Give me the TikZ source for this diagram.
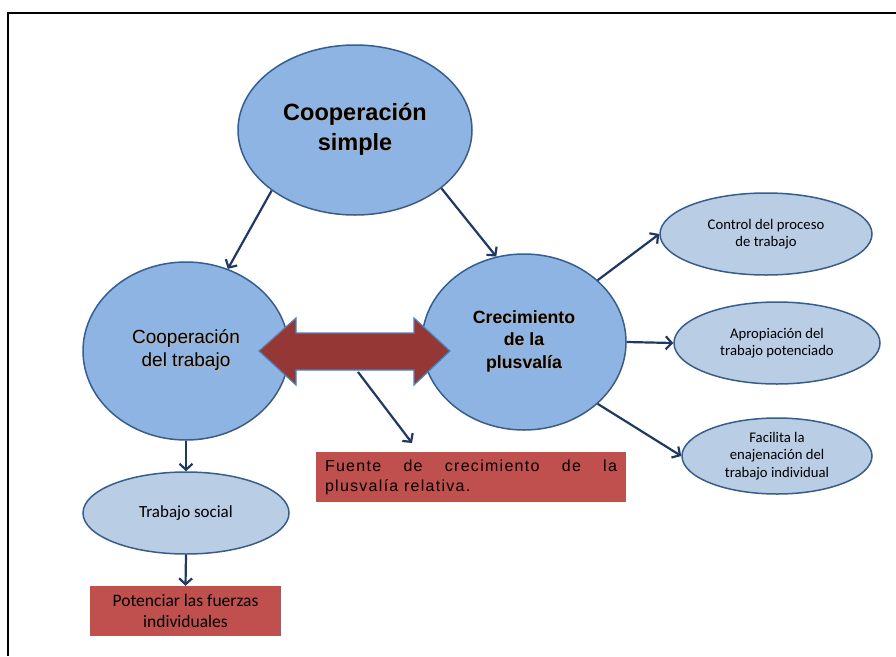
\documentclass[tikz,border=0pt]{standalone}
\usepackage{fontspec}
\setmainfont{Liberation Sans}
\newfontfamily\calibri{Carlito}
\newfontfamily\espaciada[LetterSpace=8]{Liberation Sans}
\usetikzlibrary{shapes.geometric,arrows.meta}

\definecolor{azulfuerte}{HTML}{8EB4E3}
\definecolor{azulclaro}{HTML}{B9CDE5}
\definecolor{borde}{HTML}{385D8A}
\definecolor{flecha}{HTML}{1F3864}
\definecolor{rojocaja}{HTML}{C0504D}
\definecolor{granate}{HTML}{953735}
\definecolor{bordeflecha}{HTML}{4F81BD}

% texto con sombra suave
\newcommand{\sombra}[1]{\makebox[0pt][l]{\textcolor{black!30}{\hspace{1.3pt}\raisebox{-1.3pt}{#1}}}#1}

\tikzset{
  grande/.style={ellipse, draw=borde, line width=1.5pt, fill=azulfuerte, inner sep=0pt, align=center},
  chico/.style={ellipse, draw=borde, line width=1.5pt, fill=azulclaro, inner sep=0pt, align=center,
    font=\calibri\fontsize{14.7}{17.5}\selectfont},
  caja/.style={rectangle, fill=rojocaja, inner sep=0pt},
  conector/.style={draw=flecha, line width=2.2pt, -{Straight Barb[length=6pt,width=13pt]}}
}

\begin{document}
\begin{tikzpicture}[x=1pt,y=-1pt]
    % ==== Marco ====
    \useasboundingbox (0,0) rectangle (896,656);
    \draw[line width=2pt] (7,13) -- (896,13);
    \draw[line width=2pt] (8,12) -- (8,656);

    % ==== Elipses grandes ====
    \node[grande, minimum width=234pt, minimum height=170pt, font=\fontsize{23.5}{30}\selectfont\bfseries]
      (simple) at (355,130) {\sombra{Cooperación}\\\sombra{simple}};
    \node[grande, minimum width=206pt, minimum height=178pt, font=\fontsize{19}{23}\selectfont]
      (trabajo) at (186,351) {\sombra{Cooperación}\\\sombra{del trabajo}};
    \node[grande, minimum width=204pt, minimum height=176pt, font=\fontsize{17.7}{22.5}\selectfont\bfseries]
      (plusvalia) at (524,342) {\sombra{Crecimiento}\\\sombra{de la}\\\sombra{plusvalía}};

    % ==== Elipses pequenas ====
    \node[chico, minimum width=212pt, minimum height=82pt] (control) at (766,234) {Control del proceso\\de trabajo};
    \node[chico, minimum width=206pt, minimum height=82pt] (apropiacion) at (777,343) {Apropiación del\\trabajo potenciado};
    \node[chico, minimum width=190pt, minimum height=76pt] (facilita) at (777,456) {Facilita la\\enajenación del\\trabajo individual};
    \node[chico, minimum width=206pt, minimum height=82pt, font=\calibri\fontsize{17}{20}\selectfont]
      (social) at (186,513) {Trabajo social};

    % ==== Cajas rojas ====
    \node[caja, minimum width=191pt, minimum height=50pt, align=center, font=\calibri\fontsize{17.5}{20.5}\selectfont]
      (potenciar) at (185.5,611) {Potenciar las fuerzas\\individuales};
    \node[caja, minimum width=310pt, minimum height=50pt, text width=292pt, align=justify,
      font=\espaciada\fontsize{16}{20}\selectfont]
      (fuente) at (471,477) {Fuente de crecimiento de la\linebreak plusvalía relativa.};

    % ==== Flecha doble ====
    \draw[fill=granate, draw=bordeflecha, line width=1.2pt]
      (259,351) -- (296,318) -- (296,333) -- (414,333) -- (414,318) -- (450,351)
      -- (414,385) -- (414,370) -- (296,370) -- (296,385) -- cycle;

    % ==== Conectores ====
    \draw[conector] (simple.216) -- (trabajo.63);
    \draw[conector] (simple.326) -- (plusvalia.108);
    \draw[conector] (plusvalia.40) -- (control.west);
    \draw[conector] (plusvalia.east) -- (apropiacion.west);
    \draw[conector] (plusvalia.320) -- (facilita.west);
    \draw[conector] (trabajo.south) -- (social.north);
    \draw[conector] (social.south) -- (potenciar.north);
    \coordinate (bajoflecha) at (358,372);
    \coordinate (sobrefuente) at (412,443);
    \draw[conector] (bajoflecha) -- (sobrefuente);
\end{tikzpicture}
\end{document}
